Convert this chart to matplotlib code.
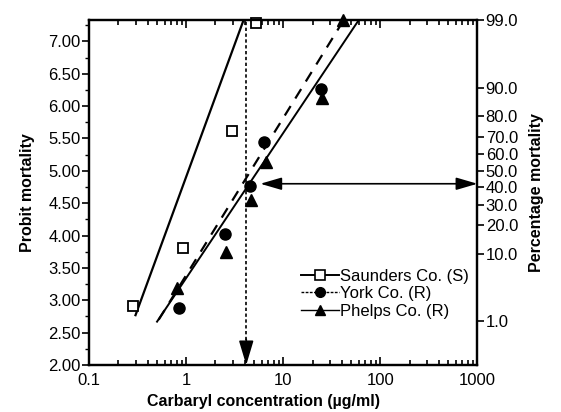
from statistics import NormalDist

import matplotlib

matplotlib.use("Agg")
import matplotlib.pyplot as plt
from matplotlib.ticker import FixedLocator, NullFormatter, LogLocator

plt.rcParams["font.family"] = ["Liberation Sans", "DejaVu Sans"]

# --- data -----------------------------------------------------------------------
saunders_x = [0.28, 0.93, 2.95, 5.2]
saunders_y = [2.91, 3.80, 5.62, 7.28]
york_x = [0.84, 2.5, 4.55, 6.3, 24.5]
york_y = [2.88, 4.03, 4.76, 5.45, 6.27]
phelps_x = [0.81, 2.55, 4.6, 6.6, 25.0, 41.0]
phelps_y = [3.19, 3.75, 4.55, 5.13, 6.13, 7.33]

# fitted probit lines (end points)
saunders_fit_x = [0.30, 3.9]
saunders_fit_y = [2.77, 7.33]
york_fit_x = [0.52, 42.0]
york_fit_y = [2.70, 7.33]
phelps_fit_x = [0.50, 60.0]
phelps_fit_y = [2.67, 7.33]

pct_ticks = [99.0, 90.0, 80.0, 70.0, 60.0, 50.0, 40.0, 30.0, 20.0, 10.0, 1.0]
probit_ticks = [2.00, 2.50, 3.00, 3.50, 4.00, 4.50, 5.00, 5.50, 6.00, 6.50, 7.00]
x_ticks = [0.1, 1, 10, 100, 1000]
x_labels = ["0.1", "1", "10", "100", "1000"]

lc_x = 4.15        # vertical dotted arrow
arrow_y = 4.80     # horizontal double arrow
arrow_x0 = 5.8


def probit(p):
    return 5 + NormalDist().inv_cdf(p / 100.0)


fig = plt.figure(figsize=(5.61, 4.12), dpi=100)
ax = fig.add_axes([0.159, 0.114, 0.692, 0.837])

ax.set_xscale("log")
ax.set_xlim(0.1, 1000)
top = probit(99.0)
ax.set_ylim(2.0, top)

ax.plot(saunders_fit_x, saunders_fit_y, color="black", lw=1.6)
ax.plot(york_fit_x, york_fit_y, color="black", lw=1.6, ls=(0, (5, 4)))
ax.plot(phelps_fit_x, phelps_fit_y, color="black", lw=1.4)

ax.plot(saunders_x, saunders_y, ls="none", marker="s", ms=7.5, mfc="white",
        mec="black", mew=1.3, clip_on=False, zorder=4)
ax.plot(york_x, york_y, ls="none", marker="o", ms=8, color="black",
        clip_on=False, zorder=4)
ax.plot(phelps_x, phelps_y, ls="none", marker="^", ms=8, color="black",
        clip_on=False, zorder=4)

# legend handles
ax.plot([], [], color="black", lw=1.4, marker="s", ms=7, mfc="white",
        mec="black", mew=1.2, label="Saunders Co. (S)")
ax.plot([], [], color="black", lw=1.0, ls=(0, (2, 1)), marker="o", ms=7,
        label="York Co. (R)")
ax.plot([], [], color="black", lw=1.0, marker="^", ms=7.5, label="Phelps Co. (R)")
handles, labels = ax.get_legend_handles_labels()
ax.legend(handles[-3:], labels[-3:], loc="lower right", bbox_to_anchor=(1.0, 0.11),
          frameon=False, fontsize=12, handlelength=2.3, handletextpad=0.05,
          labelspacing=0.15, borderaxespad=0.1)

# vertical dotted line with a solid head at the bottom
ax.plot([lc_x, lc_x], [2.3, top], color="black", lw=1.2, ls=(0, (2, 1.5)))
ax.annotate("", xy=(lc_x, 2.0), xytext=(lc_x, 2.4),
            arrowprops=dict(arrowstyle="-|>,head_length=1.5,head_width=0.45",
                            mutation_scale=10, color="black", lw=1.2,
                            shrinkA=0, shrinkB=0))
# horizontal double arrow to the percentage axis
ax.annotate("", xy=(1000, arrow_y), xytext=(arrow_x0, arrow_y),
            arrowprops=dict(arrowstyle="<|-|>,head_length=1.3,head_width=0.38",
                            mutation_scale=10, color="black", lw=1.2,
                            shrinkA=0, shrinkB=0))

# axes styling
for s in ax.spines.values():
    s.set_linewidth(1.6)
ax.xaxis.set_major_locator(FixedLocator(x_ticks))
ax.set_xticklabels(x_labels)
ax.xaxis.set_minor_locator(LogLocator(base=10, subs=range(2, 10)))
ax.xaxis.set_minor_formatter(NullFormatter())
ax.tick_params(axis="x", which="both", direction="in", top=True, labelsize=12,
               width=1.2, pad=6)
ax.tick_params(axis="x", which="major", length=6)
ax.tick_params(axis="x", which="minor", length=3.5)

ax.yaxis.set_major_locator(FixedLocator(probit_ticks))
ax.set_yticklabels([f"{v:.2f}" for v in probit_ticks])
ax.yaxis.set_minor_locator(FixedLocator([v + 0.25 for v in probit_ticks]))
ax.tick_params(axis="y", which="major", direction="out", length=5, width=1.2,
               labelsize=12, pad=1)
ax.tick_params(axis="y", which="minor", direction="out", length=3, width=1.0)

ax.set_xlabel("Carbaryl concentration (\u00b5g/ml)", fontsize=11.5, fontweight="bold")
ax.xaxis.set_label_coords(0.45, -0.085)
ax.set_ylabel("Probit mortality", fontsize=11.5, fontweight="bold", labelpad=10)

ax2 = ax.twinx()
ax2.set_ylim(ax.get_ylim())
ax2.yaxis.set_major_locator(FixedLocator([probit(p) for p in pct_ticks]))
ax2.set_yticklabels([f"{p:.1f}" for p in pct_ticks])
ax2.tick_params(axis="y", direction="out", length=5, width=1.2, labelsize=12, pad=1)
ax2.set_ylabel("Percentage mortality", fontsize=11.5, fontweight="bold", labelpad=8)
for s in ax2.spines.values():
    s.set_linewidth(1.6)

fig.savefig("out.png", dpi=100)
